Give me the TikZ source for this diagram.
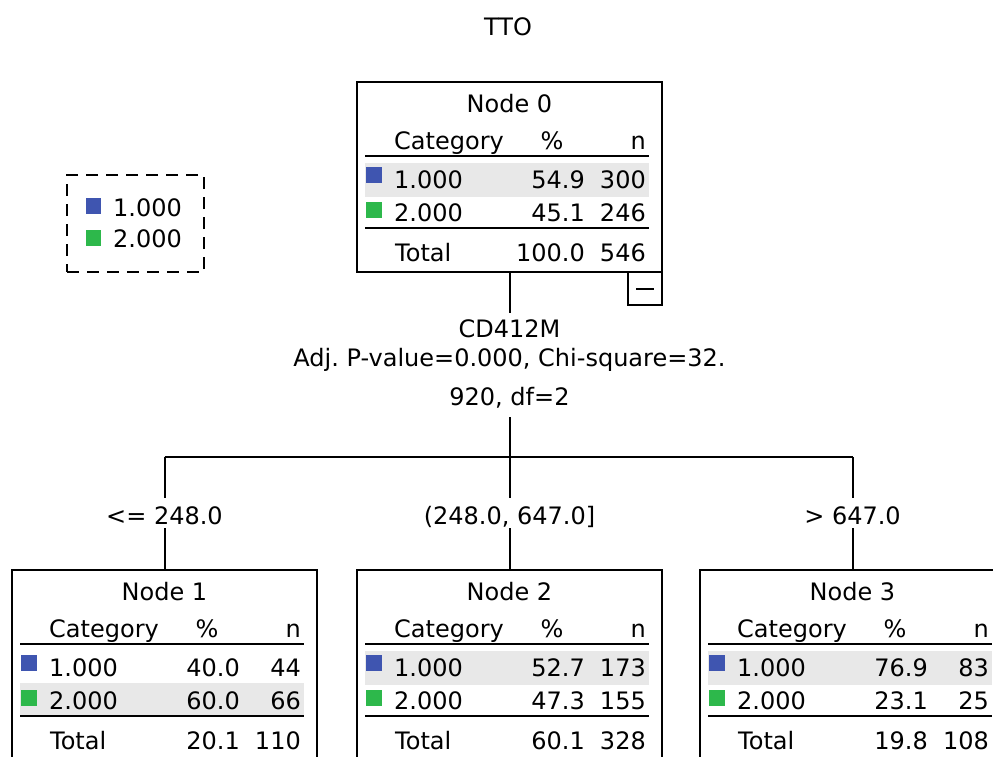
\documentclass[tikz,border=0pt]{standalone}
\usepackage{fontspec}
\setmainfont{DejaVu Sans}
\frenchspacing
\definecolor{catblue}{HTML}{3F55B0}
\definecolor{catgreen}{HTML}{2DB84B}
\definecolor{rowgray}{HTML}{E8E8E8}
\tikzset{
  txt/.style={inner sep=0pt, text height=17.5pt, text depth=0pt, font=\fontsize{24}{24}\selectfont\frenchspacing},
  boxframe/.style={draw, line width=2pt, inner sep=0pt, outer sep=0pt, minimum width=305pt, minimum height=190pt, anchor=north west},
  rulel/.style={line width=2pt},
  conn/.style={line width=2pt},
  legendbox/.style={draw, line width=2pt, dash pattern=on 12pt off 8pt, inner sep=0pt, outer sep=0pt, minimum width=137pt, minimum height=97pt, anchor=north west},
  minusbox/.style={draw, line width=2pt, inner sep=0pt, outer sep=0pt, minimum width=34pt, minimum height=33pt, anchor=north east}
}
% #1 name, #2 x, #3 y, #4 gray row top offset, #5 title, #6 p1, #7 n1, #8 p2, #9 n2 ; totals in \ctp \ctn
\def\ctnode#1#2#3#4#5#6#7#8#9{%
  \node[boxframe] (#1) at (#2,#3) {};
  \begin{scope}[shift={(#2,#3)}]
    \fill[rowgray] (8,#4) rectangle (292,{#4+34});
    \node[txt] (#1title) at (152.5,22) {#5};
    \node[txt, anchor=west] (#1cat) at (37,59) {Category};
    \node[txt] (#1pct) at (195,59) {\%};
    \node[txt, anchor=east] (#1n) at (289,59) {n};
    \draw[rulel] (8,74) -- (292,74);
    \fill[catblue] (9,85) rectangle (25,101);
    \node[txt, anchor=west] (#1ra) at (37,97.5) {1.000};
    \node[txt, anchor=east] (#1pa) at (228,97.5) {#6};
    \node[txt, anchor=east] (#1na) at (289,97.5) {#7};
    \fill[catgreen] (9,120) rectangle (25,136);
    \node[txt, anchor=west] (#1rb) at (37,130.5) {2.000};
    \node[txt, anchor=east] (#1pb) at (228,130.5) {#8};
    \node[txt, anchor=east] (#1nb) at (289,130.5) {#9};
    \draw[rulel] (8,146) -- (292,146);
    \node[txt, anchor=west] (#1tot) at (38,170.5) {Total};
    \node[txt, anchor=east] (#1tp) at (228,170.5) {\ctp};
    \node[txt, anchor=east] (#1tn) at (289,170.5) {\ctn};
  \end{scope}}
\begin{document}
\begin{tikzpicture}[x=1pt, y=-1pt]
\useasboundingbox (0,0) rectangle (993,757);
\clip (0,0) rectangle (993,757);
\fill[white] (0,0) rectangle (993,757);

\node[txt] (title) at (508,27) {TTO};

% legend
\node[legendbox] (legend) at (67,175) {};
\fill[catblue] (86,198) rectangle (101,214);
\node[txt, anchor=west] (leg1) at (113,208) {1.000};
\fill[catgreen] (86,230) rectangle (101,246);
\node[txt, anchor=west] (leg2) at (113,239) {2.000};

% nodes
\def\ctp{100.0}\def\ctn{546}
\ctnode{nz}{357}{82}{81}{Node 0}{54.9}{300}{45.1}{246}
\def\ctp{20.1}\def\ctn{110}
\ctnode{na}{12}{570}{113}{Node 1}{40.0}{44}{60.0}{66}
\def\ctp{60.1}\def\ctn{328}
\ctnode{nb}{357}{570}{81}{Node 2}{52.7}{173}{47.3}{155}
\def\ctp{19.8}\def\ctn{108}
\ctnode{nc}{700}{570}{81}{Node 3}{76.9}{83}{23.1}{25}

% minus box
\node[minusbox] (minus) at (nz.south east) {};
\draw[line width=2pt] ([xshift=8pt]minus.west) -- ([xshift=-8pt]minus.east);

% split label
\node[txt] (sp1) at (509.5,329) {CD412M};
\node[txt] (sp2) at (509.5,358) {Adj. P-value=0.000, Chi-square=32.};
\node[txt] (sp3) at (509.5,397) {920, df=2};

\coordinate (a0) at (509.5,313);
\draw[conn] (nz.south) -- (a0);
\coordinate (j0) at (509.5,417);
\coordinate (jm) at (509.5,457);
\coordinate (jl) at (164.5,457);
\coordinate (jr) at (852.5,457);
\draw[conn] (j0) -- (jm);
\draw[conn] (jl) -- (jr);

\node[txt] (lb1) at (164.5,516) {<= 248.0};
\node[txt] (lb2) at (509.5,516) {(248.0, 647.0]};
\node[txt] (lb3) at (852.5,516) {> 647.0};

\coordinate (d1) at (164.5,498);
\coordinate (d2) at (509.5,498);
\coordinate (d3) at (852.5,498);
\draw[conn] (jl) -- (d1);
\draw[conn] (jm) -- (d2);
\draw[conn] (jr) -- (d3);

\coordinate (e1) at (164.5,528);
\coordinate (e2) at (509.5,528);
\coordinate (e3) at (852.5,528);
\draw[conn] (e1) -- (na.north);
\draw[conn] (e2) -- (nb.north);
\draw[conn] (e3) -- (nc.north);
\end{tikzpicture}
\end{document}
